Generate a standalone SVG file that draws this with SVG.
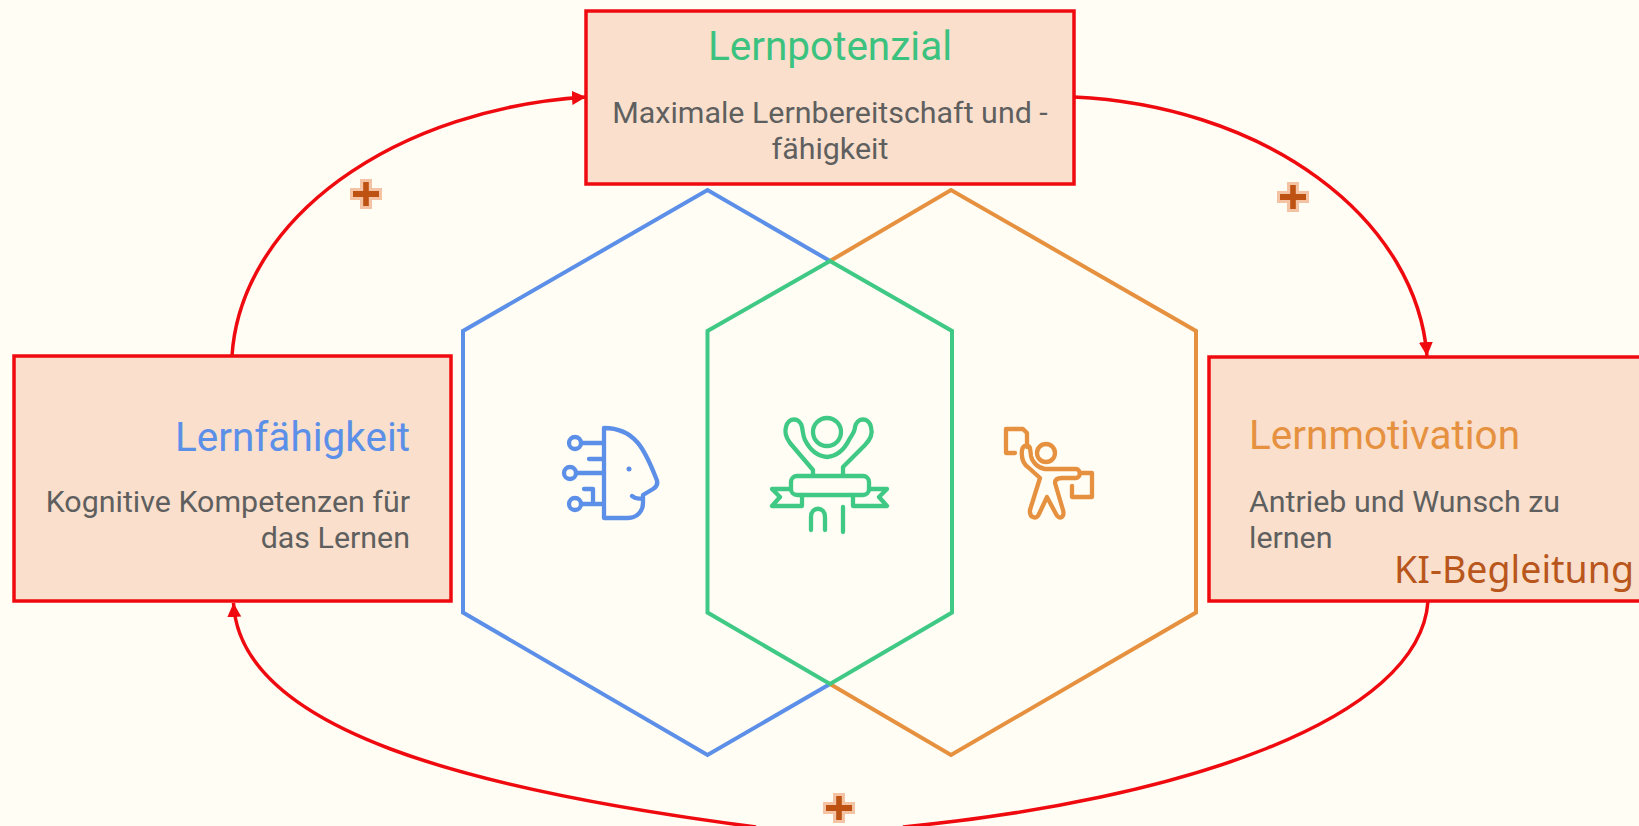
<svg xmlns="http://www.w3.org/2000/svg" width="1639" height="826" viewBox="0 0 1639 826">
<defs>
<style>
.box{fill:#f9dfcc;stroke:#ef0a0f;stroke-width:3.5}
.conn{fill:none;stroke:#ef0a0f;stroke-width:3.500}
.hex{fill:none;stroke-width:4;stroke-linejoin:miter}
.ic{fill:none;stroke-width:4.300;stroke-linecap:round;stroke-linejoin:round}
.t{font-family:Roboto,"Liberation Sans",sans-serif;font-size:40.500px}
.d{font-family:Roboto,"Liberation Sans",sans-serif;font-size:30.400px;fill:#5f5f5f}
</style>
<marker id="a" markerUnits="userSpaceOnUse" markerWidth="15" markerHeight="15" refX="14" refY="7.500" orient="auto"><path d="M0 0.500L14 7.500L0 14.500z" fill="#ef0a0f"/></marker>
<g id="plus"><path d="M-6 -15H6V-6H16V6H6V15H-6V6H-16V-6H-6z" fill="#f3c3a4"/><path d="M-2.800 -12H2.800V-3H13V3H2.800V12H-2.800V3H-13V-3H-2.800z" fill="#bd5212"/></g>
</defs>
<rect width="1639" height="826" fill="#fffdf4"/>
<g id="hexagons">
<path class="hex" stroke="#5b8fe8" d="M830 261L707.500 190L463 331V612.500L707.500 755L830 684"/>
<path class="hex" stroke="#e6913f" d="M830 261L951 190L1196 331V612.500L951 755L830 684"/>
<path class="hex" stroke="#3fc985" d="M830 261L952 331V612.500L830 684L707.500 612.500V331z"/>
</g>
<g id="connectors">
<path class="conn" marker-end="url(#a)" d="M232 356A390 272 0 0 1 586 97"/>
<path class="conn" marker-end="url(#a)" d="M1074 97A378 275 0 0 1 1427 356"/>
<path class="conn" d="M1428 601C1420 720 1180 800 903 827"/>
<path class="conn" marker-end="url(#a)" d="M756 827C470 790 240 730 233.500 603"/>
</g>
<g id="node-lernpotenzial">
<rect class="box" x="586" y="11" width="488" height="173"/>
<text class="t" x="830" y="60" text-anchor="middle" fill="#3cc27f">Lernpotenzial</text>
<text class="d" x="830" y="123" text-anchor="middle">Maximale Lernbereitschaft und -</text>
<text class="d" x="830" y="159" text-anchor="middle">fähigkeit</text>
</g>
<g id="node-lernfaehigkeit">
<rect class="box" x="14" y="356" width="437" height="245"/>
<text class="t" x="410" y="451" text-anchor="end" fill="#5b8fe8">Lernfähigkeit</text>
<text class="d" x="410" y="512" text-anchor="end">Kognitive Kompetenzen für</text>
<text class="d" x="410" y="548" text-anchor="end">das Lernen</text>
</g>
<g id="node-lernmotivation">
<rect class="box" x="1209" y="357" width="440" height="244"/>
<text class="t" x="1249" y="449" fill="#e6913f">Lernmotivation</text>
<text class="d" x="1249" y="512" fill="#5f5f5f">Antrieb und Wunsch zu</text>
<text class="d" x="1249" y="548" fill="#5f5f5f">lernen</text>
<text x="1394" y="583" font-family="'Noto Sans','Liberation Sans',sans-serif" font-size="37.500" fill="#b8561c">KI-Begleitung</text>
</g>
<g id="icon-head">
<path class="ic" stroke="#5b8fe8" d="M604 428V518H628C637 518 643 511 643 503V495L653 489C658 486 658 482 656 478C645 450 635 428 604 428zM581 443H604M589 459H604M576 473H604M581 504H604M584 489H593V504M632 496Q637 500 643 498"/>
<circle class="ic" stroke="#5b8fe8" cx="575" cy="443" r="6"/><circle class="ic" stroke="#5b8fe8" cx="570" cy="473" r="6"/><circle class="ic" stroke="#5b8fe8" cx="575" cy="504" r="6"/>
<circle cx="629" cy="469" r="2.500" fill="#5b8fe8"/>
</g>
<g id="icon-winner">
<circle class="ic" stroke="#3fc985" cx="827" cy="432" r="14"/>
<path class="ic" stroke="#3fc985" d="M813 475V470L790 443C785 436 785 430 786 427C788 417 800 417 802 427C803 432 803 436 805 440C809 448 815 456 827 457C839 456 845 448 849 440C851 436 855 432 855 427C857 417 869 417 871 427C873 434 870 440 865 445L843 467V475"/>
<rect class="ic" stroke="#3fc985" x="791" y="476" width="78" height="19" rx="6"/>
<path class="ic" stroke="#3fc985" d="M790 489H772L780 497L772 506H802V495M870 489H887L879 497L887 506H853V495M811 530V517C811 506 825 506 825 517V530M843 507V532"/>
</g>
<g id="icon-person">
<circle class="ic" stroke="#e6913f" cx="1046" cy="453" r="9"/>
<path class="ic" stroke="#e6913f" d="M1015 453H1006V429H1023L1027 433V447M1022 450C1021 458 1023 464 1029 468L1040 478L1030 510C1029 518 1037 520 1039 514L1047 497L1056 514C1059 520 1065 518 1063 510L1055 483C1055 479 1058 478 1062 478H1076C1081 478 1081 469 1076 469H1045C1038 468 1032 462 1031 456L1030 448C1028 444 1023 445 1022 450zM1080 473H1092V497H1072V486"/>
</g>
<use href="#plus" x="366" y="194"/>
<use href="#plus" x="1293" y="197"/>
<use href="#plus" x="839" y="808"/>
</svg>
